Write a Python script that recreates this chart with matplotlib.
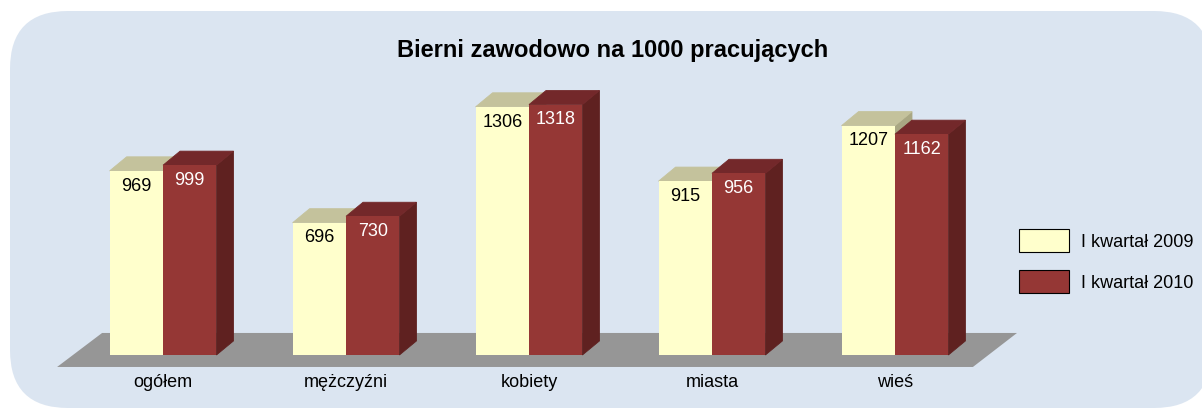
import matplotlib
matplotlib.use('Agg')
import matplotlib.pyplot as plt
from matplotlib.patches import Polygon, FancyBboxPatch, Patch
from matplotlib.transforms import IdentityTransform

categories = ['ogółem', 'mężczyźni', 'kobiety', 'miasta', 'wieś']
q1_2009 = [969, 696, 1306, 915, 1207]
q1_2010 = [999, 730, 1318, 956, 1162]
series_labels = ['I kwartał 2009', 'I kwartał 2010']
title = 'Bierni zawodowo na 1000 pracujących'

W, H = 1202, 408
plt.rcParams['font.family'] = ['Liberation Sans', 'DejaVu Sans']

fig = plt.figure(figsize=(W / 100, H / 100), dpi=100)
fig.patch.set_facecolor('white')

# rounded light blue panel (pixel coords)
panel = FancyBboxPatch((10, 0), 1202, 397,
                       boxstyle='round,pad=0,rounding_size=58',
                       facecolor='#dbe5f1', edgecolor='none',
                       transform=IdentityTransform(), zorder=-10)
fig.add_artist(panel)

ax = fig.add_axes([0, 0, 1, 1])
ax.set_xlim(-0.891, 5.678)
ax.set_ylim(-278.9, 1868.4)
ax.axis('off')
ax.patch.set_alpha(0)

w = 0.292          # bar width in category units
ddx = 0.093        # depth offset x
ddy = 74           # depth offset y

# floor
floor = Polygon([(-0.579, -63), (4.426, -63), (4.667, 116), (-0.333, 116)],
                closed=True, facecolor='#969696', edgecolor='none', zorder=1)
ax.add_patch(floor)

styles = [
    dict(front='#ffffcc', top='#c4c29c', side='#a9a783', text='black'),
    dict(front='#953735', top='#73282a', side='#5f2120', text='white'),
]


def draw_bar(x0, v, st, z):
    top = Polygon([(x0, v), (x0 + w, v), (x0 + w + ddx, v + ddy), (x0 + ddx, v + ddy)],
                  closed=True, facecolor=st['top'], edgecolor=st['top'],
                  linewidth=0.6, zorder=z)
    side = Polygon([(x0 + w, 0), (x0 + w + ddx, ddy), (x0 + w + ddx, v + ddy), (x0 + w, v)],
                   closed=True, facecolor=st['side'], edgecolor=st['side'],
                   linewidth=0.6, zorder=z)
    ax.add_patch(side)
    ax.add_patch(top)
    ax.bar(x0, v, width=w, align='edge', color=st['front'],
           edgecolor='none', zorder=z + 0.1)
    ax.text(x0 + w / 2, v - 80, str(v), ha='center', va='center',
            fontsize=13, color=st['text'], zorder=z + 0.5)


for i, cat in enumerate(categories):
    draw_bar(i - w, q1_2009[i], styles[0], 2 + i * 2)
    draw_bar(i, q1_2010[i], styles[1], 3 + i * 2)
    ax.text(i, -147, cat, ha='center', va='center', fontsize=13, color='black')

fig.text(613 / W, 1 - 50 / H, title, ha='center', va='center',
         fontsize=17, fontweight='bold', color='black')

handles = [Patch(facecolor=styles[0]['front'], edgecolor='black', linewidth=0.8),
           Patch(facecolor=styles[1]['front'], edgecolor='black', linewidth=0.8)]
fig.legend(handles, series_labels, loc='upper left',
           bbox_to_anchor=(1019 / W, 1 - 229 / H), frameon=False,
           fontsize=13, handlelength=2.75, handleheight=1.6,
           handletextpad=0.7, labelspacing=1.0, borderpad=0, borderaxespad=0)

fig.savefig('out.png', dpi=100)
